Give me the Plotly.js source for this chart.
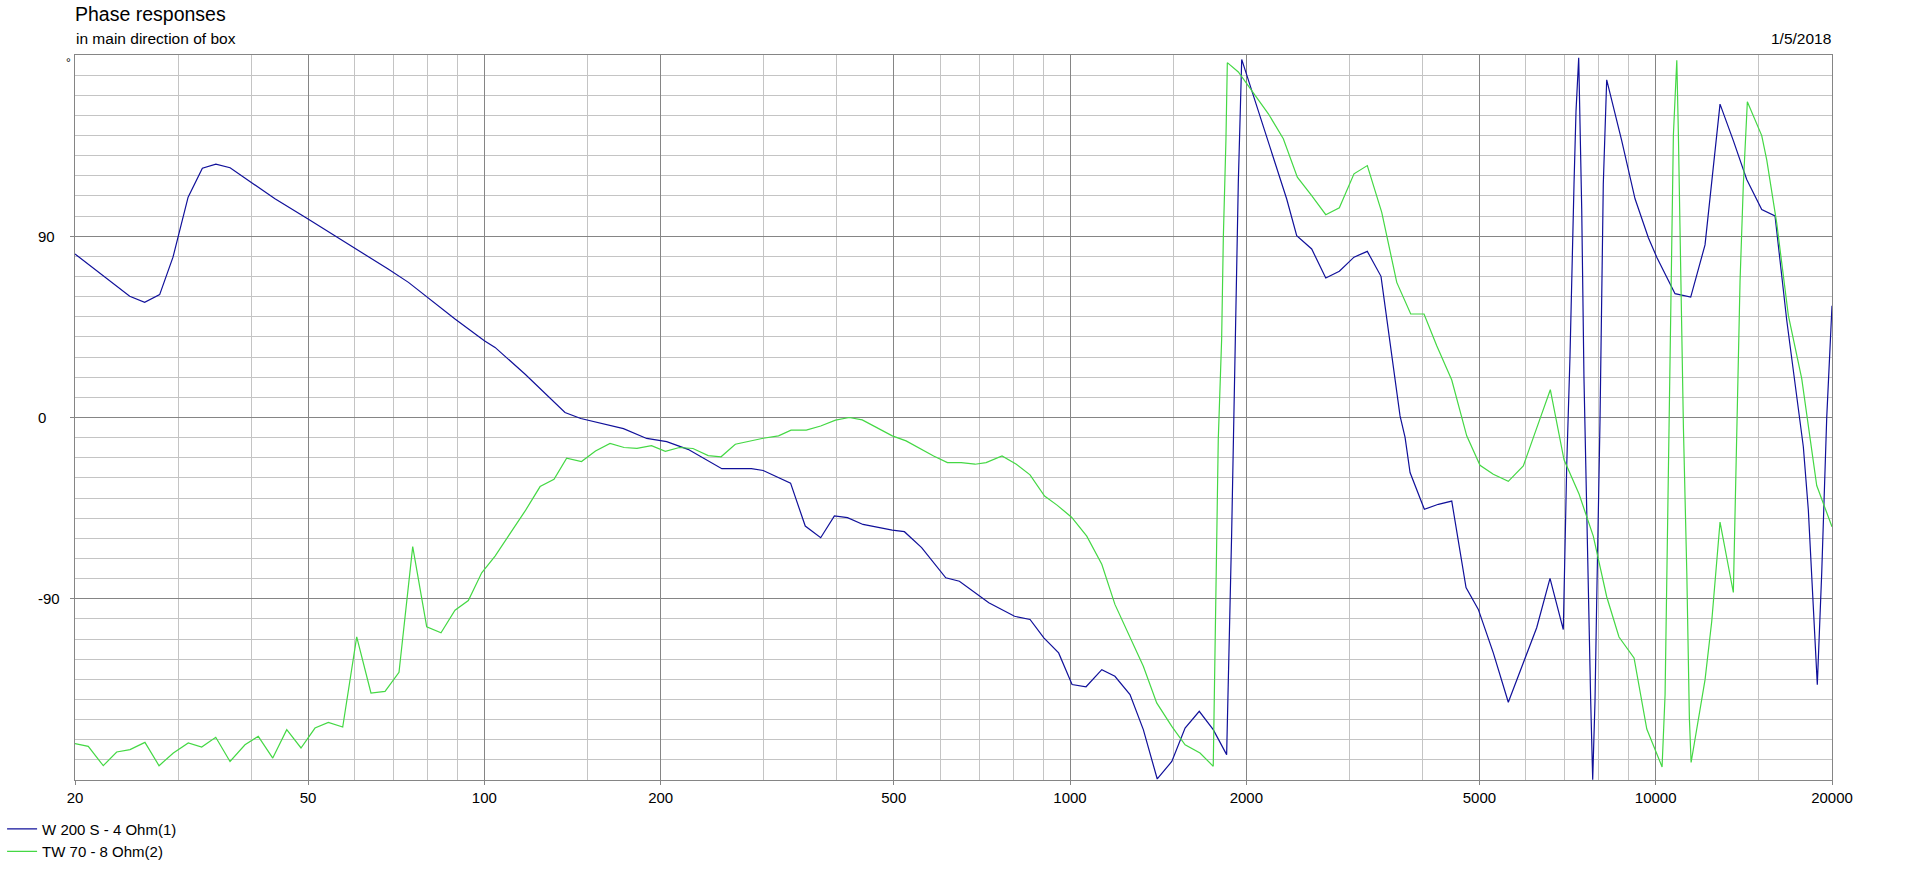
<!DOCTYPE html>
<html>
<head>
<meta charset="utf-8">
<script src="https://cdn.plot.ly/plotly-3.0.1.min.js"></script>
<style>html,body{margin:0;padding:0;background:#fff;}#chart{width:1907px;height:879px;}</style>
</head>
<body>
<div id="chart"></div>
<script>
// ---- data (frequency in Hz, phase in degrees) ----
const wooferName = "W 200 S - 4 Ohm(1)";
const tweeterName = "TW 70 - 8 Ohm(2)";

const wooferFreq = [20, 24.8, 26.3, 27.9, 29.4, 31.2, 33.0, 34.8, 36.8, 39.5, 43.9, 50.0, 55.6, 61.7, 68.5, 74.2, 80.2, 89.1, 100, 104.3,
  117.4, 132, 137.3, 146.1, 166, 172.8, 189.3, 199.5, 204.8, 222.7, 254.4, 285.8, 299.3, 333.3, 353.1, 375.2, 396, 416.9, 443.1, 497.2,
  521.4, 558, 613.5, 647.3, 726.6, 804, 854.5, 902.2, 956.2, 1008, 1065, 1133, 1193, 1266, 1334, 1409, 1492, 1572, 1662, 1756,
  1851, 1888, 1908, 1926, 1938, 1964, 2056, 2153, 2268, 2344, 2438, 2586, 2733, 2883, 3054, 3218, 3396, 3473, 3621, 3660,
  3733, 3807, 4027, 4255, 4485, 4615, 4744, 4979, 5281, 5602, 5942, 6263, 6600, 6954, 7048, 7139, 7253, 7310, 7388, 7476,
  7543, 7672, 7745, 7806, 7877, 7930, 8033, 8138, 8193, 8248, 8749, 9220, 9716, 10042, 10790, 11476, 12140, 12464, 12878, 13570,
  14304, 15172, 15986, 16740, 17410, 17868, 18222, 18584, 18878, 19208, 19590, 20000];
const wooferPhase = [81.2, 60.2, 57.2, 61.0, 79.6, 109.4, 123.8, 125.8, 124.0, 117.7, 108.6, 98.6, 90.3, 82.0, 73.7, 67.1, 59.2, 48.9, 38.1, 34.8,
  21.5, 7.5, 2.5, -0.5, -4.2, -5.5, -10.4, -11.6, -12.0, -15.8, -25.4, -25.4, -26.3, -32.6, -53.9, -59.7, -48.9, -49.7, -53.1, -55.9,
  -56.7, -64.6, -79.6, -81.3, -92.0, -98.7, -100.3, -109.4, -116.9, -132.6, -133.7, -125.2, -128.5, -137.6, -155.0, -179.5, -170.8, -154.2, -145.9, -155.0,
  -167.4, -57, 9, 65, 117, 177.8, 159.9, 141.7, 121.8, 108.5, 90.3, 83.7, 69.3, 72.6, 79.6, 82.5, 70.1, 49.0, 9.1, 0.8,
  -9.9, -27.3, -45.6, -43.1, -41.5, -63.8, -84.5, -95.3, -116.9, -141.4, -121.8, -104.4, -79.9, -105.3, -24, 30, 115.8, 152, 178.6, 103.8,
  19.3, -88.7, -140.9, -179.9, -140.9, -91, -2, 115.8, 147, 167.7, 137.5, 108.6, 89.3, 79.6, 61.5, 59.8, 85.7, 115.8, 155.6, 137.5,
  118.2, 103.3, 100.1, 48.3, 12.1, -14.5, -45.8, -96.5, -132.7, -77.2, 0, 55.5];

const tweeterFreq = [20, 21.07, 22.35, 23.56, 24.83, 26.33, 27.83, 29.44, 31.22, 32.91, 34.78, 36.79, 39.02, 41.11, 43.52, 45.98, 48.63, 51.38, 54.15, 57.30,
  60.54, 64.03, 67.67, 71.49, 75.45, 79.72, 84.33, 89.1, 93.89, 98.96, 104.3, 110.6, 117.4, 124.5, 131.5, 138.2, 146.5, 154.8, 163.9, 173.2,
  182.2, 192.9, 203.7, 215.3, 227.1, 241.1, 253.6, 268.2, 283.9, 299.3, 317.9, 333.9, 354.5, 375.2, 397.7, 419.9, 441.8, 467.8, 497.2, 524.9,
  554.0, 584.9, 617.6, 651.9, 688.3, 718.9, 765.4, 809.7, 854.5, 904.7, 950.2, 1006, 1068, 1133, 1193, 1257, 1334, 1406, 1492, 1572,
  1667, 1756, 1768, 1791, 1815, 1827, 1846, 1856, 1938, 2029, 2181, 2313, 2444, 2586, 2733, 2883, 3054, 3218, 3406, 3613,
  3817, 4022, 4228, 4485, 4757, 5012, 5281, 5602, 5942, 6263, 6608, 6974, 7398, 7824, 8248, 8656, 9184, 9656, 10254, 10376,
  10512, 10653, 10720, 10822, 10865, 10934, 11007, 11081, 11151, 11301, 11417, 11494, 12140, 12464, 12878, 13570, 13752, 13932, 14114, 14338,
  15172, 15474, 16094, 16846, 17756, 18222, 18834, 20000];
const tweeterPhase = [-161.9, -163.3, -172.9, -166.1, -164.9, -161.3, -172.9, -166.6, -161.6, -163.6, -158.8, -170.8, -162.5, -158.3, -169.1, -155.0, -164.1, -154.2, -151.4, -153.7,
  -108.9, -136.8, -136.0, -126.5, -64.1, -103.9, -106.9, -95.7, -90.9, -77.1, -68.8, -58.0, -46.4, -34.3, -30.7, -20.2, -21.9, -16.6, -12.9, -14.9,
  -15.3, -14.0, -16.8, -14.9, -15.4, -18.9, -19.5, -13.3, -11.6, -10.3, -9.1, -6.3, -6.3, -4.2, -1.3, 0, -1.2, -5.0, -9.1, -11.6,
  -15.3, -19.1, -22.4, -22.4, -23.2, -22.4, -19.1, -23.2, -28.5, -39.0, -43.5, -49.5, -58.9, -72.9, -92.8, -106.9, -123.5, -141.7, -153.4, -162.5,
  -166.6, -173.2, -110, -11, 39, 89, 138, 176.2, 171.6, 163.3, 150.8, 138.4, 119.3, 110.2, 100.7, 104.1, 121.0, 125.1, 101.9, 67.1,
  51.4, 51.4, 35.6, 18.6, -9.1, -23.7, -28.2, -31.7, -24.1, -5.3, 13.8, -21, -38, -58.9, -89, -109, -119.4, -154.7, -173.5, -137.5,
  -29, 79.6, 140, 166.5, 177.4, 140, 91.7, 43.4, -4.8, -77.2, -149.6, -171.3, -130.3, -101.3, -51.9, -86.9, -4.8, 67.6, 115.8, 156.8,
  140, 127.9, 96.5, 50.7, 19.3, -4.8, -33.8, -54.3];

// axis ticks and grid positions
const xTickVals = [20, 50, 100, 200, 500, 1000, 2000, 5000, 10000, 20000];
const xTickText = ["20", "50", "100", "200", "500", "1000", "2000", "5000", "10000", "20000"];
const xMinorVals = [30, 40, 60, 70, 80, 90, 150, 300, 400, 600, 700, 800, 900, 1500, 3000, 4000, 6000, 7000, 8000, 9000, 15000];
const yTickVals = [90, 0, -90];
const yTickText = ["90", "0", "-90"];

const chartTitle = "Phase responses";
const chartSubtitle = "in main direction of box";
const chartDate = "1/5/2018";
const unitLabel = "°";

// ---- styling ----
const FONT = "Arial, 'Liberation Sans', sans-serif";
const GRID_MINOR = "#c4c4c4";
const GRID_MAJOR = "#858585";

const traces = [
  {x: wooferFreq, y: wooferPhase, name: wooferName, type: "scatter", mode: "lines",
   line: {color: "#10109a", width: 1.2}},
  {x: tweeterFreq, y: tweeterPhase, name: tweeterName, type: "scatter", mode: "lines",
   line: {color: "#44d844", width: 1.2}}
];

const annotations = yTickVals.map((v, i) => ({
  xref: "paper", yref: "y", x: 0, y: v, xshift: -39, xanchor: "left", yanchor: "middle",
  text: yTickText[i], showarrow: false, font: {family: FONT, size: 15, color: "#000"}
}));
annotations.push({xref: "paper", yref: "paper", x: 0, y: 1, xshift: -7, yshift: -8, xanchor: "center", yanchor: "middle",
  text: unitLabel, showarrow: false, font: {family: FONT, size: 12, color: "#000"}});
annotations.push({xref: "paper", yref: "paper", x: 0, y: 1, yshift: 17, xanchor: "left", yanchor: "middle",
  text: chartSubtitle, showarrow: false, font: {family: FONT, size: 15.5, color: "#000"}, borderpad: 0});
annotations.push({xref: "paper", yref: "paper", x: 1, y: 1, yshift: 17, xanchor: "right", yanchor: "middle",
  text: chartDate, showarrow: false, font: {family: FONT, size: 15.5, color: "#000"}, borderpad: 0});

const layout = {
  width: 1907, height: 879,
  margin: {l: 75, r: 75, t: 55, b: 99, pad: 0, autoexpand: false},
  paper_bgcolor: "#fff", plot_bgcolor: "#fff",
  font: {family: FONT, size: 15, color: "#000"},
  title: {text: chartTitle, font: {family: FONT, size: 19.5, color: "#000"},
          x: 75 / 1907, xref: "container", xanchor: "left", y: 1 - 14 / 879, yref: "container", yanchor: "middle"},
  showlegend: true,
  legend: {x: -0.0415, xanchor: "left", y: -0.045, yanchor: "top", orientation: "v",
           font: {family: FONT, size: 15, color: "#000"}, bgcolor: "rgba(0,0,0,0)", tracegroupgap: 0},
  xaxis: {
    type: "log", range: [Math.log10(20), Math.log10(20000)],
    tickmode: "array", tickvals: xTickVals, ticktext: xTickText,
    ticks: "outside", ticklen: 4, tickcolor: GRID_MAJOR, tickwidth: 1,
    showgrid: true, gridcolor: GRID_MAJOR, gridwidth: 1,
    minor: {tickmode: "array", tickvals: xMinorVals, showgrid: true, gridcolor: GRID_MINOR, gridwidth: 1, ticks: ""},
    showline: true, mirror: true, linecolor: GRID_MAJOR, linewidth: 1,
    zeroline: false, tickfont: {family: FONT, size: 15, color: "#000"}, fixedrange: true
  },
  yaxis: {
    range: [-180, 180],
    tickmode: "array", tickvals: yTickVals, ticktext: yTickText, showticklabels: false,
    ticks: "outside", ticklen: 4, tickcolor: GRID_MAJOR, tickwidth: 1,
    showgrid: true, gridcolor: GRID_MAJOR, gridwidth: 1,
    minor: {tick0: 0, dtick: 10, showgrid: true, gridcolor: GRID_MINOR, gridwidth: 1, ticks: ""},
    showline: true, mirror: true, linecolor: GRID_MAJOR, linewidth: 1,
    zeroline: false, fixedrange: true
  },
  annotations: annotations
};

Plotly.newPlot("chart", traces, layout, {displayModeBar: false, staticPlot: true});
</script>
</body>
</html>
